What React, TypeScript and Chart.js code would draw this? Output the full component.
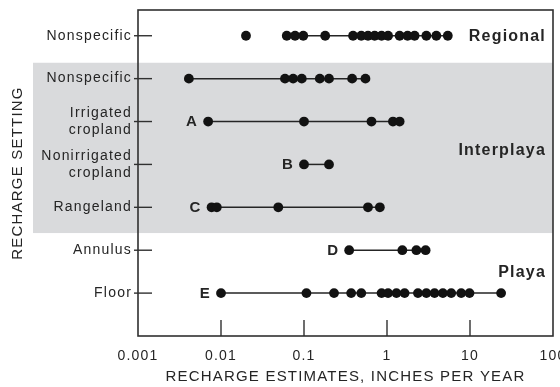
import React, { useEffect, useRef } from "react";
import { Chart, registerables } from "chart.js";

Chart.register(...registerables);

// ---------- data ----------
const settingLabels: string[][] = [
  ["Nonspecific"],
  ["Nonspecific"],
  ["Irrigated", "cropland"],
  ["Nonirrigated", "cropland"],
  ["Rangeland"],
  ["Annulus"],
  ["Floor"],
];
const rowLetters = ["", "", "A", "B", "C", "D", "E"];
const groupNames = ["Regional", "Interplaya", "Playa"];

const regionalOutlier = [0.02];
const regionalNonspecific = [0.062, 0.078, 0.098, 0.18, 0.39, 0.49, 0.59, 0.71, 0.86, 1.03, 1.42, 1.77, 2.15, 2.98, 3.93, 5.4];
const interplayaNonspecific = [0.0041, 0.059, 0.074, 0.094, 0.155, 0.2, 0.38, 0.55];
const irrigatedCropland = [0.007, 0.1, 0.65, 1.18, 1.42];
const nonirrigatedCropland = [0.1, 0.2];
const rangeland = [0.0077, 0.0089, 0.049, 0.59, 0.82];
const annulus = [0.35, 1.53, 2.26, 2.92];
const floor = [0.01, 0.107, 0.23, 0.37, 0.49, 0.86, 1.03, 1.3, 1.63, 2.36, 2.98, 3.74, 4.71, 5.94, 7.83, 9.86, 23.7];

const xTickValues = [0.001, 0.01, 0.1, 1, 10, 100];
const xTickLabels = ["0.001", "0.01", "0.1", "1", "10", "100"];

const xTitle = "RECHARGE ESTIMATES, INCHES PER YEAR";
const yTitle = "RECHARGE SETTING";

// ---------- styles ----------
const FONT = "'Liberation Sans', Arial, Helvetica, sans-serif";
const INK = "#252525";
const DOT = "#121212";
const BAND = "#d9dadc";
const SPACING = "1.2px";

export default function App() {
  const ref = useRef<HTMLCanvasElement | null>(null);

  useEffect(() => {
    const canvas = ref.current;
    if (!canvas) return;

    const rows = [
      regionalNonspecific,
      interplayaNonspecific,
      irrigatedCropland,
      nonirrigatedCropland,
      rangeland,
      annulus,
      floor,
    ];
    const nRows = settingLabels.length;
    const rowY = (i: number) => nRows - i;

    const pointStyle = {
      pointRadius: 4.9,
      pointHoverRadius: 4.9,
      pointBackgroundColor: DOT,
      pointBorderWidth: 0,
      borderColor: INK,
      borderWidth: 1.5,
    };

    const datasets: any[] = rows.map((vals, i) => ({
      data: vals.map((v) => ({ x: v, y: rowY(i) })),
      showLine: true,
      ...pointStyle,
    }));
    datasets.push({
      data: regionalOutlier.map((v) => ({ x: v, y: rowY(0) })),
      showLine: false,
      ...pointStyle,
    });

    const decor = {
      id: "decor",
      beforeUpdate(chart: any) {
        chart.ctx.letterSpacing = SPACING;
      },
      beforeDraw(chart: any) {
        const ctx = chart.ctx as CanvasRenderingContext2D;
        (ctx as any).letterSpacing = SPACING;
        const ca = chart.chartArea;
        const y = chart.scales.y;
        const top = y.getPixelForValue(6.37);
        const bot = y.getPixelForValue(2.4);
        ctx.save();
        ctx.fillStyle = BAND;
        ctx.fillRect(33, top, ca.right - 33, bot - top);
        ctx.restore();
      },
      afterDatasetsDraw(chart: any) {
        const ctx = chart.ctx as CanvasRenderingContext2D;
        const ca = chart.chartArea;
        const x = chart.scales.x;
        const y = chart.scales.y;
        ctx.save();
        // frame
        ctx.strokeStyle = "#303030";
        ctx.lineWidth = 1.6;
        ctx.strokeRect(ca.left, ca.top, ca.right - ca.left, ca.bottom - ca.top);
        // y ticks (crossing into plot)
        ctx.lineWidth = 1.4;
        for (let i = 0; i < nRows; i++) {
          const py = y.getPixelForValue(rowY(i));
          ctx.beginPath();
          ctx.moveTo(ca.left - 4, py);
          ctx.lineTo(ca.left + 14, py);
          ctx.stroke();
        }
        // x ticks (inside, upward)
        for (let k = 1; k < xTickValues.length - 1; k++) {
          const px = x.getPixelForValue(xTickValues[k]);
          ctx.beginPath();
          ctx.moveTo(px, ca.bottom);
          ctx.lineTo(px, ca.bottom - 16);
          ctx.stroke();
        }
        // row letters
        ctx.fillStyle = INK;
        ctx.font = `bold 15px ${FONT}`;
        ctx.textAlign = "right";
        ctx.textBaseline = "middle";
        for (let i = 0; i < nRows; i++) {
          if (!rowLetters[i]) continue;
          const px = x.getPixelForValue(rows[i][0]) - 10;
          ctx.fillText(rowLetters[i], px, y.getPixelForValue(rowY(i)) + 0.5);
        }
        // group labels
        const groupY = [7, 4.33, 1.49];
        ctx.font = `bold 16px ${FONT}`;
        groupNames.forEach((g, k) => {
          ctx.fillText(g, ca.right - 7, y.getPixelForValue(groupY[k]) + 0.5);
        });
        ctx.restore();
      },
    };

    const chart = new Chart(canvas, {
      type: "scatter",
      data: { datasets },
      options: {
        animation: false,
        responsive: true,
        maintainAspectRatio: false,
        events: [],
        layout: { padding: { top: 10, right: 7, bottom: 0, left: 0 } },
        plugins: {
          legend: { display: false },
          tooltip: { enabled: false },
        },
        scales: {
          x: {
            type: "logarithmic",
            min: 0.001,
            max: 100,
            grid: { display: false },
            border: { display: false },
            afterBuildTicks: (scale: any) => {
              scale.ticks = xTickValues.map((v) => ({ value: v }));
            },
            afterFit: (scale: any) => {
              scale.height = 51;
              scale.paddingLeft = 0;
              scale.paddingRight = 0;
            },
            ticks: {
              autoSkip: false,
              maxRotation: 0,
              padding: 4,
              color: INK,
              font: { family: FONT, size: 14 },
              callback: (value: any) => {
                const idx = xTickValues.findIndex((v) => Math.abs(v - Number(value)) < v * 1e-6);
                return idx >= 0 ? xTickLabels[idx] : "";
              },
            },
            title: {
              display: true,
              text: xTitle,
              color: INK,
              font: { family: FONT, size: 15 },
              padding: { top: 0, bottom: 1 },
            },
          },
          y: {
            type: "linear",
            min: 0,
            max: 7.6,
            grid: { display: false },
            border: { display: false },
            afterBuildTicks: (scale: any) => {
              scale.ticks = settingLabels.map((_, i) => ({ value: rowY(i) }));
            },
            afterFit: (scale: any) => {
              scale.width = 138;
              scale.paddingTop = 0;
              scale.paddingBottom = 0;
            },
            ticks: {
              autoSkip: false,
              padding: -2,
              color: INK,
              font: { family: FONT, size: 14 },
              callback: (value: any) => {
                const i = nRows - Number(value);
                return settingLabels[i] ?? "";
              },
            },
            title: {
              display: true,
              text: yTitle,
              color: INK,
              font: { family: FONT, size: 15 },
              padding: { top: 9, bottom: 0 },
            },
          },
        },
      },
      plugins: [decor],
    } as any);

    return () => chart.destroy();
  }, []);

  return (
    <div style={{ position: "fixed", left: 0, top: 0, width: 560, height: 387, background: "#fff" }}>
      <canvas ref={ref} />
    </div>
  );
}
